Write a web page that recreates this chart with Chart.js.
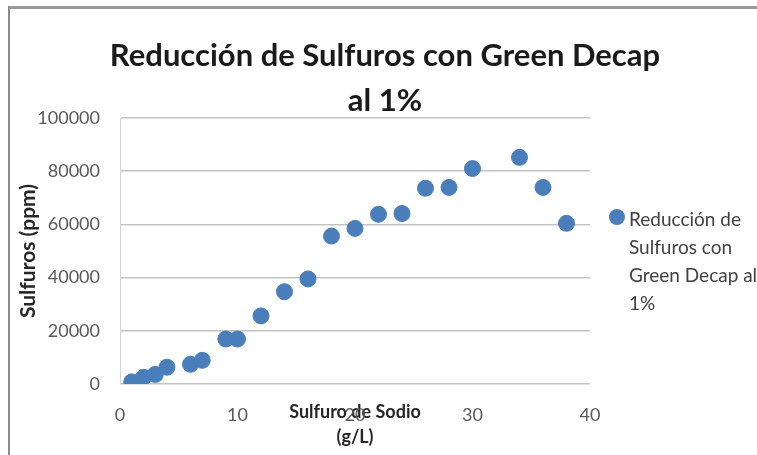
<!DOCTYPE html>
<html>
<head>
<meta charset="utf-8">
<script src="https://cdn.jsdelivr.net/npm/chart.js@4.4.1/dist/chart.umd.min.js"></script>
<style>
  html, body { margin: 0; padding: 0; background: #fff; }
  #wrap { position: relative; width: 757px; height: 455px; }
  #frame {
    position: absolute; left: 8px; top: 6px; width: 760px; height: 446px;
    border-top: 3px solid #9a9a9a; border-left: 2px solid #8c8c8c; border-bottom: 1px solid #c8c8c8;
    pointer-events: none;
  }
</style>
</head>
<body>
<div id="wrap">
  <canvas id="myChart" width="757" height="455"></canvas>
  <div id="frame"></div>
</div>
<script>
// Sulfuro de Sodio (g/L)
var sodio = [1, 2, 3, 4, 6, 7, 9, 10, 12, 14, 16, 18, 20, 22, 24, 26, 28, 30, 34, 36, 38];
// Sulfuros (ppm)
var sulfuros = [800, 2500, 3600, 6300, 7400, 8900, 16900, 16900, 25600, 34700, 39500,
                55600, 58500, 63800, 64100, 73600, 73900, 81000, 85200, 73900, 60400];
var seriesName = "Reducción de Sulfuros con Green Decap al 1%";
var legendLines = ["Reducción de", "Sulfuros con", "Green Decap al", "1%"];
var titleLines = ["Reducción de Sulfuros con Green Decap", "al 1%"];
var xTitle = ["Sulfuro de Sodio", "(g/L)"];
var yTitle = "Sulfuros (ppm)";

var points = [];
sodio.forEach(function (x, i) {
    points.push({ x: x, y: sulfuros[i] });
});

var blue = "#4a7ebb";
var fontFamily = "Lato, 'Open Sans', sans-serif";

// title across the full width + wrapped legend on the right
var decorations = {
    id: "decorations",
    afterDraw: function (chart) {
        var ctx = chart.ctx;
        ctx.save();
        ctx.fillStyle = "#1a1a1a";
        ctx.font = "bold 31px " + fontFamily;
        ctx.textAlign = "center";
        ctx.textBaseline = "middle";
        titleLines.forEach(function (line, i) {
            ctx.fillText(line, 385, 56 + i * 45);
        });

        ctx.fillStyle = blue;
        ctx.beginPath();
        ctx.arc(617, 217, 8, 0, Math.PI * 2);
        ctx.fill();
        ctx.fillStyle = "#404040";
        ctx.font = "19px " + fontFamily;
        ctx.textAlign = "left";
        legendLines.forEach(function (line, i) {
            ctx.fillText(line, 629, 220 + i * 28);
        });
        ctx.restore();
    }
};

var ctx = document.getElementById("myChart").getContext("2d");
var myChart = new Chart(ctx, {
    type: "scatter",
    data: {
        datasets: [{
            label: seriesName,
            data: points,
            backgroundColor: blue,
            borderColor: blue,
            pointRadius: 8,
            pointHoverRadius: 8
        }]
    },
    options: {
        responsive: false,
        animation: false,
        layout: { padding: { left: 10, right: 167, top: 118, bottom: 0 } },
        plugins: {
            legend: { display: false },
            tooltip: { enabled: false }
        },
        scales: {
            x: {
                type: "linear",
                min: 0,
                max: 40,
                ticks: {
                    stepSize: 10, padding: 20, color: "#595959",
                    font: { family: fontFamily, size: 18 },
                    callback: function (v) { return String(v); }
                },
                grid: { display: false, drawTicks: false },
                border: { display: false },
                title: {
                    display: true,
                    text: xTitle,
                    color: "#262626",
                    font: { family: fontFamily, size: 18, weight: "bold", lineHeight: 1.4 },
                    padding: { top: 0, bottom: 5 }
                },
                afterFit: function (scale) { scale.height = 71; }
            },
            y: {
                min: 0,
                max: 100000,
                ticks: {
                    stepSize: 20000, padding: 20, color: "#595959",
                    font: { family: fontFamily, size: 18 },
                    callback: function (v) { return String(v); }
                },
                grid: { color: "#c4c4c4", lineWidth: 1.5, drawTicks: false },
                border: { display: true, color: "#d4d4d4" },
                title: {
                    display: true,
                    text: yTitle,
                    color: "#262626",
                    font: { family: fontFamily, size: 21, weight: "bold" },
                    padding: { top: 6, bottom: 0 }
                },
                afterFit: function (scale) { scale.width = 110; }
            }
        }
    },
    plugins: [decorations]
});
</script>
</body>
</html>
